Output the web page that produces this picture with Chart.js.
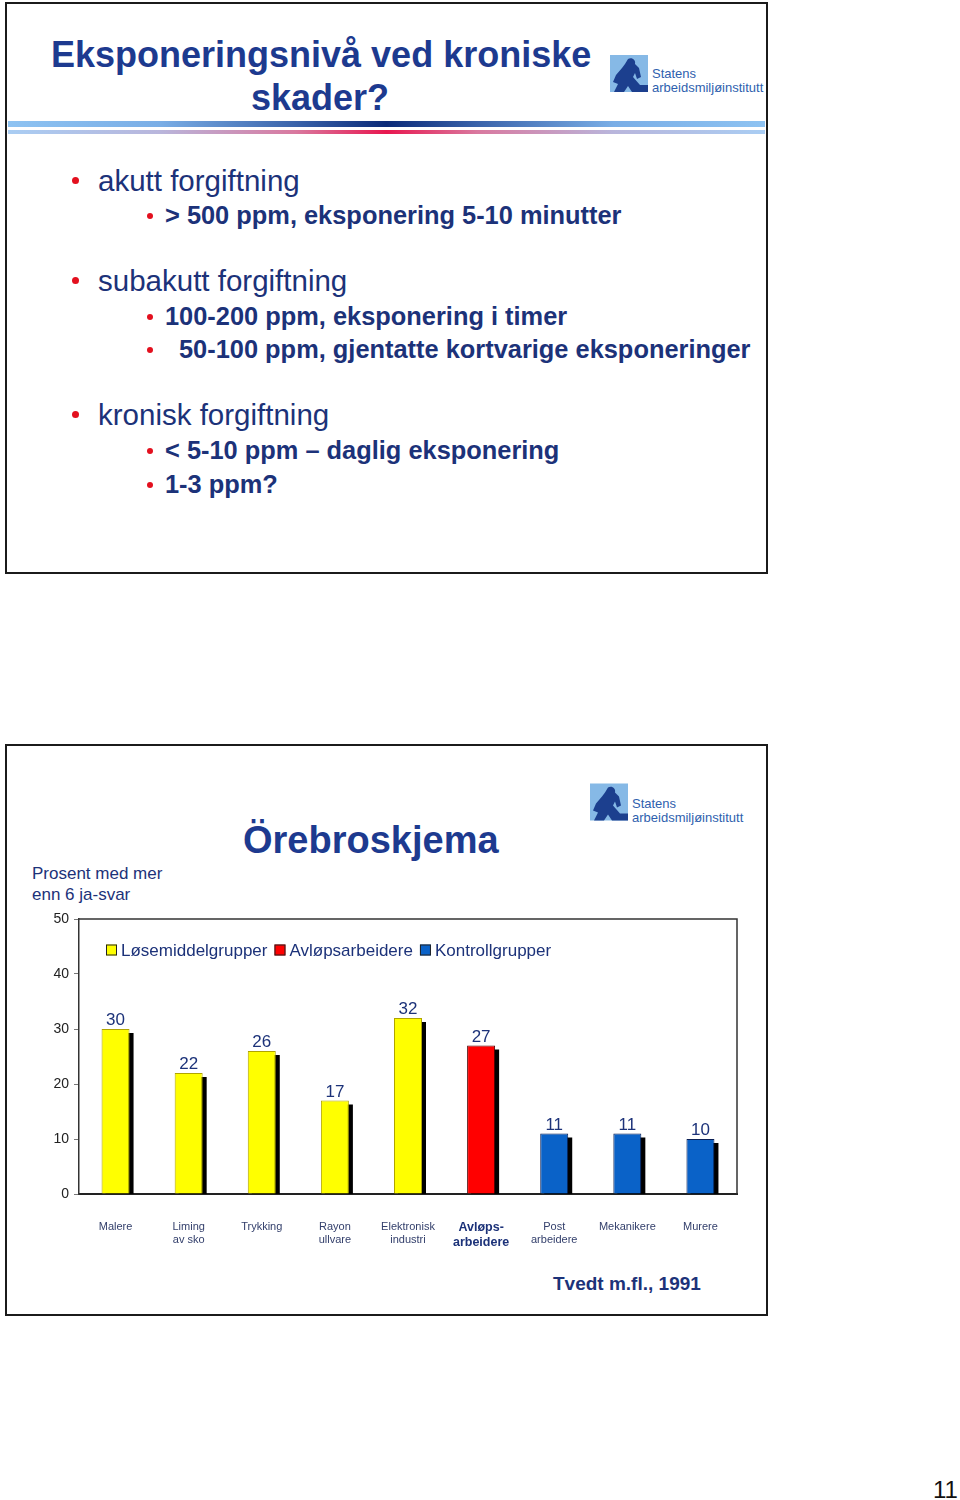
<!DOCTYPE html>
<html>
<head>
<meta charset="utf-8">
<script src="https://cdn.jsdelivr.net/npm/chart.js@4.4.0/dist/chart.umd.min.js"></script>
<style>
  html, body { margin:0; padding:0; background:#fff; }
  body { width:960px; height:1500px; position:relative; overflow:hidden; font-family:"Liberation Sans", Arial, Helvetica, sans-serif; }
  .abs { position:absolute; white-space:nowrap; line-height:1; }
  .frame { position:absolute; border:2px solid #1b1b1b; box-sizing:border-box; }
  .title { color:#1d3a8f; font-weight:bold; font-size:36px; }
  .l1 { color:#1c3279; font-size:29.5px; }
  .l2 { color:#1c3279; font-size:25.4px; font-weight:bold; }
  .dot { position:absolute; border-radius:50%; background:#e3101e; }
  .logo { position:absolute; }
  .logotext { position:absolute; color:#2f5fae; font-size:13px; line-height:1; white-space:nowrap; }
</style>
</head>
<body>

<!-- top slide -->
<div class="frame" style="left:5px; top:2px; width:763px; height:572px;"></div>
<div class="abs title" style="left:51px; top:37px;">Eksponeringsnivå ved kroniske</div>
<div class="abs title" style="left:251px; top:80px;">skader?</div>

<svg class="logo" style="left:610px; top:55px;" width="38" height="37" viewBox="0 0 38 37">
  <rect width="38" height="37" fill="#86b9e6"/>
  <path d="M18 4 C22 2 26 5 25 9 L29 13 L31 22 L27 24 L25 18 L23 22 L30 30 L38 30 L38 37 L22 37 L18 31 L14 37 L4 37 L8 29 L3 27 L6 20 L12 13 L15 9 Z" fill="#1c3f8e"/>
</svg>
<div class="logotext" style="left:652px; top:67px;">Statens</div>
<div class="logotext" style="left:652px; top:81px;">arbeidsmiljøinstitutt</div>

<div style="position:absolute; left:8px; top:121px; width:757px; height:6px; background:linear-gradient(to right,#8ec3f2 0%,#7aaee6 20%,#3a63aa 38%,#0b2a78 50%,#3a63aa 62%,#7aaee6 80%,#8ec3f2 100%);"></div>
<div style="position:absolute; left:8px; top:130px; width:757px; height:4px; background:linear-gradient(to right,#a9cdf3 0%,#b9b6dc 20%,#d9799f 38%,#e8174f 50%,#d9799f 62%,#b9b6dc 80%,#a9cdf3 100%);"></div>

<div class="dot" style="left:72px; top:177px; width:7px; height:7px;"></div>
<div class="abs l1" style="left:98px; top:166px;">akutt forgiftning</div>
<div class="dot" style="left:147px; top:213px; width:6px; height:6px;"></div>
<div class="abs l2" style="left:165px; top:203px;">&gt; 500 ppm, eksponering 5-10 minutter</div>

<div class="dot" style="left:72px; top:277px; width:7px; height:7px;"></div>
<div class="abs l1" style="left:98px; top:266px;">subakutt forgiftning</div>
<div class="dot" style="left:147px; top:314px; width:6px; height:6px;"></div>
<div class="abs l2" style="left:165px; top:304px;">100-200 ppm, eksponering i timer</div>
<div class="dot" style="left:147px; top:347px; width:6px; height:6px;"></div>
<div class="abs l2" style="left:179px; top:337px;">50-100 ppm, gjentatte kortvarige eksponeringer</div>

<div class="dot" style="left:72px; top:411px; width:7px; height:7px;"></div>
<div class="abs l1" style="left:98px; top:400px;">kronisk forgiftning</div>
<div class="dot" style="left:147px; top:448px; width:6px; height:6px;"></div>
<div class="abs l2" style="left:165px; top:438px;">&lt; 5-10 ppm – daglig eksponering</div>
<div class="dot" style="left:147px; top:482px; width:6px; height:6px;"></div>
<div class="abs l2" style="left:165px; top:472px;">1-3 ppm?</div>

<!-- bottom slide -->
<div class="frame" style="left:5px; top:744px; width:763px; height:572px;"></div>
<svg class="logo" style="left:590px; top:783px;" width="38" height="38" viewBox="0 0 38 37">
  <rect width="38" height="37" fill="#86b9e6"/>
  <path d="M18 4 C22 2 26 5 25 9 L29 13 L31 22 L27 24 L25 18 L23 22 L30 30 L38 30 L38 37 L22 37 L18 31 L14 37 L4 37 L8 29 L3 27 L6 20 L12 13 L15 9 Z" fill="#1c3f8e"/>
</svg>
<div class="logotext" style="left:632px; top:797px;">Statens</div>
<div class="logotext" style="left:632px; top:811px;">arbeidsmiljøinstitutt</div>

<div class="abs" style="left:243px; top:821px; font-size:38px; font-weight:bold; color:#1d3a8f;">Örebroskjema</div>
<div class="abs" style="left:32px; top:865px; font-size:17px; color:#1c3279;">Prosent med mer</div>
<div class="abs" style="left:32px; top:886px; font-size:17px; color:#1c3279;">enn 6 ja-svar</div>

<div style="position:absolute; left:20px; top:905px; width:725px; height:355px;">
  <canvas id="c"></canvas>
</div>

<div class="abs" style="left:553px; top:1274px; font-size:19px; font-weight:bold; color:#1c3279;">Tvedt m.fl., 1991</div>
<div class="abs" style="left:933px; top:1478px; font-size:24px; color:#111;">11</div>

<script>
// ---- data ----
const categories = [
  ["Malere"], ["Liming", "av sko"], ["Trykking"], ["Rayon", "ullvare"],
  ["Elektronisk", "industri"], ["Avløps-", "arbeidere"], ["Post", "arbeidere"],
  ["Mekanikere"], ["Murere"]
];
const seriesNames = ["Løsemiddelgrupper", "Avløpsarbeidere", "Kontrollgrupper"];
const losemiddel = [30, 22, 26, 17, 32, null, null, null, null];
const avlop      = [null, null, null, null, null, 27, null, null, null];
const kontroll   = [null, null, null, null, null, null, 11, 11, 10];
const yTicks = [0, 10, 20, 30, 40, 50];

const FONT = '"Liberation Sans", Arial, Helvetica, sans-serif';
Chart.defaults.font.family = FONT;

const navy = '#1c3279';

const slidePlugin = {
  id: 'slide',
  beforeDatasetsDraw(chart) {
    // black drop shadow behind each bar, taken from the bar elements' own geometry
    const ctx = chart.ctx;
    const a = chart.chartArea;
    ctx.save();
    ctx.beginPath();
    ctx.rect(a.left, a.top, a.right - a.left, a.bottom - a.top);
    ctx.clip();
    ctx.fillStyle = '#000';
    chart.data.datasets.forEach((ds, i) => {
      const meta = chart.getDatasetMeta(i);
      meta.data.forEach((el, j) => {
        if (ds.data[j] === null || ds.data[j] === undefined) return;
        const p = el.getProps(['x', 'y', 'base', 'width'], true);
        ctx.fillRect(p.x - p.width / 2 + 4, p.y + 4, p.width, p.base - p.y);
      });
    });
    ctx.restore();
  },
  afterDatasetsDraw(chart) {
    const ctx = chart.ctx;
    const a = chart.chartArea;
    // frame top and right
    ctx.save();
    ctx.strokeStyle = '#333';
    ctx.lineWidth = 1.5;
    ctx.beginPath();
    ctx.moveTo(a.left, a.top);
    ctx.lineTo(a.right, a.top);
    ctx.lineTo(a.right, a.bottom);
    ctx.stroke();
    ctx.restore();
    // value labels
    ctx.save();
    ctx.font = '17px ' + FONT;
    ctx.fillStyle = navy;
    ctx.textAlign = 'center';
    ctx.textBaseline = 'alphabetic';
    chart.data.datasets.forEach((ds, i) => {
      const meta = chart.getDatasetMeta(i);
      meta.data.forEach((el, j) => {
        const v = ds.data[j];
        if (v === null || v === undefined) return;
        ctx.fillText(String(v), el.x, el.y - 4);
      });
    });
    ctx.restore();
    // legend inside plot area
    ctx.save();
    ctx.font = '17px ' + FONT;
    ctx.textBaseline = 'middle';
    ctx.textAlign = 'left';
    let x = a.left + 27;
    const cy = a.top + 31;
    chart.data.datasets.forEach((ds) => {
      ctx.fillStyle = ds.backgroundColor;
      ctx.fillRect(x, cy - 5.5, 11, 11);
      ctx.strokeStyle = '#222';
      ctx.lineWidth = 1;
      ctx.strokeRect(x + 0.5, cy - 5, 10, 10);
      ctx.fillStyle = navy;
      ctx.fillText(ds.label, x + 15, cy + 1);
      x += 15 + ctx.measureText(ds.label).width + 7;
    });
    ctx.restore();
  }
};

new Chart(document.getElementById('c'), {
  type: 'bar',
  data: {
    labels: categories,
    datasets: [
      { label: seriesNames[0], data: losemiddel, backgroundColor: '#ffff00', borderColor: '#b0a400', borderWidth: 1 },
      { label: seriesNames[1], data: avlop, backgroundColor: '#ff0000', borderColor: '#4a0000', borderWidth: 1 },
      { label: seriesNames[2], data: kontroll, backgroundColor: '#0a62c8', borderColor: '#0a1f55', borderWidth: 1 }
    ]
  },
  options: {
    responsive: true,
    maintainAspectRatio: false,
    animation: false,
    datasets: { bar: { grouped: false, categoryPercentage: 1, barPercentage: 0.383 } },
    layout: { padding: { top: 14, right: 8, left: 0, bottom: 0 } },
    plugins: { legend: { display: false }, tooltip: { enabled: false } },
    scales: {
      x: {
        grid: { display: false },
        border: { display: true, color: '#222', width: 2 },
        ticks: {
          autoSkip: false, maxRotation: 0, minRotation: 0, padding: 18,
          font: (c) => c.index === 5 ? { size: 12.5, weight: 'bold', lineHeight: 1.2 } : { size: 11, lineHeight: 1.18 },
          color: (c) => c.index === 5 ? navy : '#34406c'
        },
        afterFit: (s) => { s.height = 66; }
      },
      y: {
        min: 0, max: 50,
        afterBuildTicks: (s) => { s.ticks = yTicks.map(v => ({ value: v })); },
        grid: { display: true, drawOnChartArea: false, drawTicks: true, tickLength: 5, color: '#777' },
        border: { display: true, color: '#333', width: 1.5 },
        ticks: { padding: 5, font: { size: 14 }, color: '#222' },
        afterFit: (s) => { s.width = 59; }
      }
    }
  },
  plugins: [slidePlugin]
});
</script>
</body>
</html>
